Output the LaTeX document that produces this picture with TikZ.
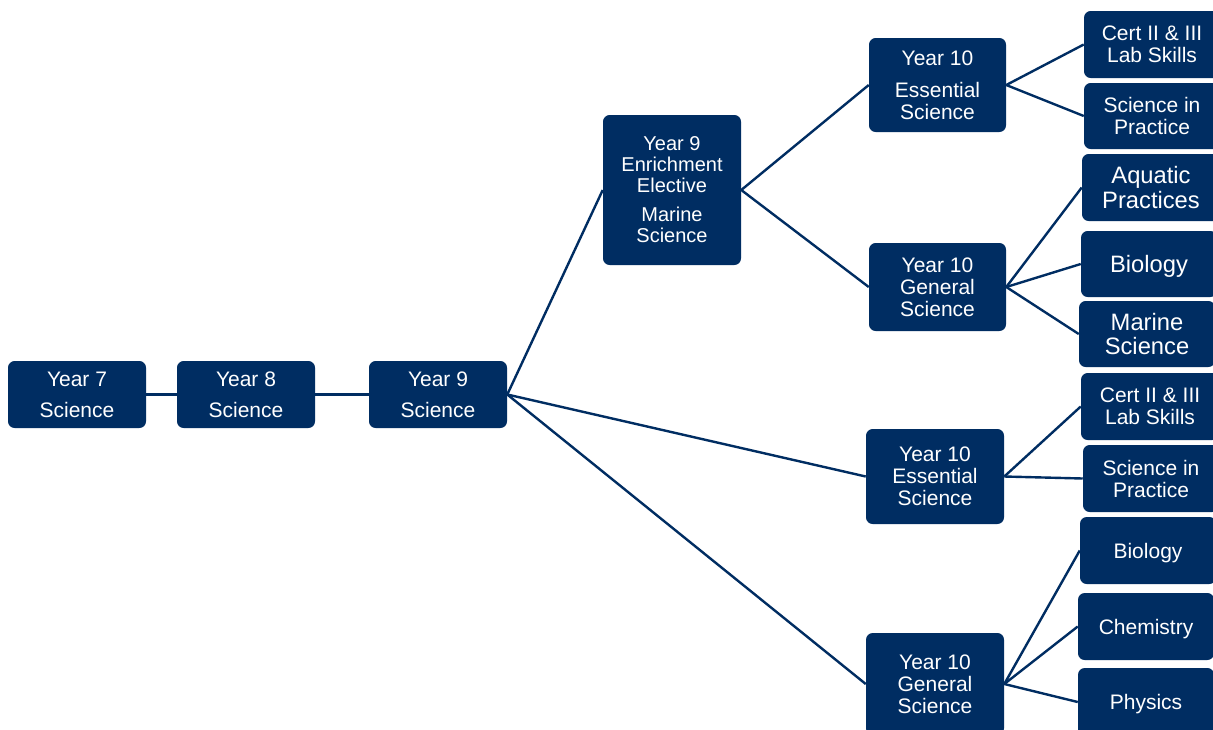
\documentclass[tikz,border=0pt]{standalone}
\usepackage{fontspec}
\setmainfont{Liberation Sans}
\definecolor{navy}{RGB}{0,45,98}
\begin{document}
\begin{tikzpicture}[x=0.75pt,y=-0.75pt,
  box/.style={fill=navy, draw=none, rounded corners=5pt, text=white,
    align=center, inner sep=0pt, font=\fontsize{15.75}{16.5}\selectfont},
  big/.style={font=\fontsize{17.8}{18.6}\selectfont},
  oneline/.style={text depth=0pt},
  link/.style={draw=navy, line width=1.8pt}]
\fill[white] (0,0) rectangle (1213,729);
\useasboundingbox (0,0) rectangle (1213,729);

% main chain
\node[box, minimum width=103.5pt, minimum height=50.25pt] (y7) at (77,394.5) {Year 7\\[6.75pt]Science};
\node[box, minimum width=103.5pt, minimum height=50.25pt] (y8) at (246,394.5) {Year 8\\[6.75pt]Science};
\node[box, minimum width=103.5pt, minimum height=50.25pt] (y9) at (438,394.5) {Year 9\\[6.75pt]Science};

% year 9 elective
\node[box, font=\fontsize{15}{15.75}\selectfont, minimum width=103.5pt, minimum height=112.5pt] (enr) at (672,190)
  {Year 9\\Enrichment\\Elective\\[6pt]Marine\\Science};

% year 10 courses
\node[box, minimum width=102.75pt, minimum height=70.5pt] (e10a) at (937.5,85) {Year 10\\[7.5pt]Essential\\Science};
\node[box, minimum width=102.75pt, minimum height=66pt] (g10a) at (937.5,287) {Year 10\\General\\Science};
\node[box, minimum width=103.5pt, minimum height=71.25pt] (e10b) at (935,476.5) {Year 10\\Essential\\Science};
\node[box, minimum width=103.5pt, minimum height=76.5pt] (g10b) at (935,684) {Year 10\\General\\Science};

% senior pathways
\node[box, minimum width=102pt, minimum height=50.25pt] (c1) at (1152,44.5) {Cert II \& III\\Lab Skills};
\node[box, minimum width=102pt, minimum height=49.5pt] (s1) at (1152,116) {Science in\\Practice};
\node[box, big, minimum width=103.5pt, minimum height=50.25pt] (aq) at (1151,187.5) {Aquatic\\Practices};
\node[box, big, oneline, minimum width=102pt, minimum height=49.5pt] (b1) at (1149,264) {Biology};
\node[box, big, minimum width=102pt, minimum height=49.5pt] (m1) at (1147,334) {Marine\\Science};
\node[box, minimum width=103.5pt, minimum height=50.25pt] (c2) at (1150,406.5) {Cert II \& III\\Lab Skills};
\node[box, minimum width=102pt, minimum height=50.25pt] (s2) at (1151,478.5) {Science in\\Practice};
\node[box, oneline, minimum width=102pt, minimum height=50.25pt] (b2) at (1148,550.5) {Biology};
\node[box, oneline, minimum width=102pt, minimum height=50.25pt] (ch) at (1146,626.5) {Chemistry};
\node[box, oneline, minimum width=102pt, minimum height=51pt] (ph) at (1146,702) {Physics};

% connectors
\draw[link] (y7.east) -- (y8.west);
\draw[link] (y8.east) -- (y9.west);
\draw[link] (y9.east) -- (enr.west);
\draw[link] (y9.east) -- (e10b.west);
\draw[link] (y9.east) -- (g10b.west);
\draw[link] (enr.east) -- (e10a.west);
\draw[link] (enr.east) -- (g10a.west);
\draw[link] (e10a.east) -- (c1.west);
\draw[link] (e10a.east) -- (s1.west);
\draw[link] (g10a.east) -- (aq.west);
\draw[link] (g10a.east) -- (b1.west);
\draw[link] (g10a.east) -- (m1.west);
\draw[link] (e10b.east) -- (c2.west);
\draw[link] (e10b.east) -- (s2.west);
\draw[link] (g10b.east) -- (b2.west);
\draw[link] (g10b.east) -- (ch.west);
\draw[link] (g10b.east) -- (ph.west);
\end{tikzpicture}
\end{document}
